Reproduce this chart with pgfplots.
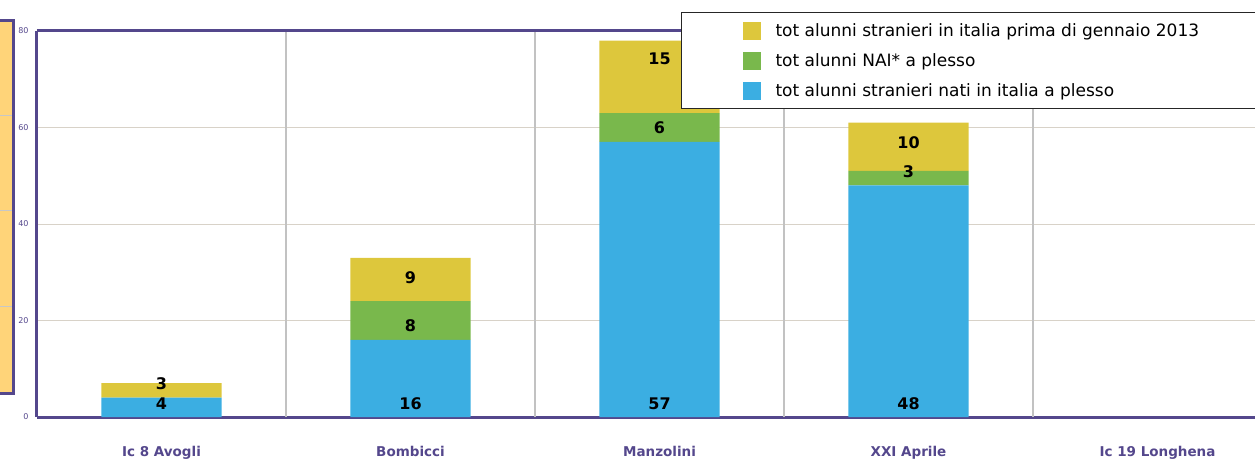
\documentclass[border=0pt]{standalone}
\usepackage{pgfplots}
\pgfplotsset{compat=1.18}
\usepackage{fontspec}
\setmainfont{DejaVu Sans}
\definecolor{ayel}{HTML}{DDC73C}
\definecolor{agreen}{HTML}{79B84C}
\definecolor{ablue}{HTML}{3BAEE2}
\definecolor{apurple}{HTML}{54478C}
\definecolor{apanel}{HTML}{FFD479}
\definecolor{hgrid}{HTML}{D8D2C8}
\definecolor{vgrid}{HTML}{C2C2C2}
\pgfplotsset{sqlegend/.style={legend image code/.code={\fill[##1] (0pt,-9pt) rectangle (18pt,9pt);}}}
\begin{document}
\begin{tikzpicture}
\begin{axis}[name=ax, scale only axis, width=1218pt, height=386pt,
  xmin=-0.5, xmax=4.3916, ymin=0, ymax=80, clip=false,
  ybar stacked, bar width=120pt,
  axis x line*=bottom, axis y line*=left,
  axis line style={apurple, line width=3pt},
  xtick={0,1,2,3,4},
  xticklabels={Ic 8 Avogli, Bombicci, Manzolini, XXI Aprile, Ic 19 Longhena},
  x tick label style={font=\bfseries\fontsize{13.5}{15}\selectfont, text=apurple, yshift=-26pt},
  major x tick style={draw=none},
  extra x ticks={0.5,1.5,2.5,3.5}, extra x tick labels={},
  extra x tick style={xmajorgrids, major tick length=6pt, tick align=inside, tick style={apurple, line width=2pt}},
  x grid style={vgrid, line width=1.5pt},
  ytick={0,20,40,60,80},
  ymajorgrids,
  y grid style={hgrid, line width=1pt},
  major y tick style={draw=none},
  /pgf/number format/assume math mode=true,
  yticklabel style={font=\fontsize{8}{9}\selectfont, text=apurple, xshift=-5pt},
  legend style={at={(0.5287,1.0494)}, anchor=north west, draw=black!85, line width=1.2pt,
     fill=white, inner xsep=61pt, inner ysep=3pt, column sep=15pt,
     font=\fontsize{17}{18}\selectfont, nodes={inner sep=0pt, minimum height=30pt, anchor=west}},
  legend cell align=left, reverse legend,
]
\addplot[fill=ablue, draw=none, sqlegend] coordinates {(0,4) (1,16) (2,57) (3,48) (4,0)};
\addplot[fill=agreen, draw=none, sqlegend] coordinates {(0,0) (1,8) (2,6) (3,3) (4,0)};
\addplot[fill=ayel, draw=none, sqlegend] coordinates {(0,3) (1,9) (2,15) (3,10) (4,0)};
\legend{tot alunni stranieri nati in italia a plesso, tot alunni NAI* a plesso, tot alunni stranieri in italia prima di gennaio 2013}
\draw[apurple, line width=3pt] (rel axis cs:0,1) -- (rel axis cs:1,1);
\end{axis}
\begin{axis}[at={(ax.south west)}, anchor=south west, scale only axis, width=1218pt, height=386pt,
  xmin=-0.5, xmax=4.3916, ymin=0, ymax=80, clip=false, hide axis]
\addplot[draw=none, mark=none, nodes near coords, point meta=explicit symbolic,
  nodes near coords align=center,
  every node near coord/.append style={font=\bfseries\fontsize{16}{17}\selectfont, black}]
  coordinates {(0,2.7)[4] (0,6.9)[3] (1,2.7)[16] (1,18.9)[8] (1,28.9)[9]
               (2,2.7)[57] (2,60.0)[6] (2,74.2)[15] (3,2.7)[48] (3,50.9)[3] (3,56.9)[10]};
\end{axis}
\fill[apanel] ([xshift=-60pt,yshift=24pt]ax.south west) rectangle ([xshift=-24pt,yshift=396pt]ax.south west);
\foreach \yy in {111,206,301} {
  \draw[black!22, line width=1pt] ([xshift=-60pt,yshift=\yy pt]ax.south west) -- ([xshift=-25pt,yshift=\yy pt]ax.south west);
}
\draw[apurple, line width=3pt] ([xshift=-60pt,yshift=24pt]ax.south west) rectangle ([xshift=-24pt,yshift=396pt]ax.south west);
\pgfresetboundingbox
\path ([xshift=-37pt,yshift=-43pt]ax.south west) rectangle ([yshift=31pt]ax.north east);
\end{tikzpicture}
\end{document}
